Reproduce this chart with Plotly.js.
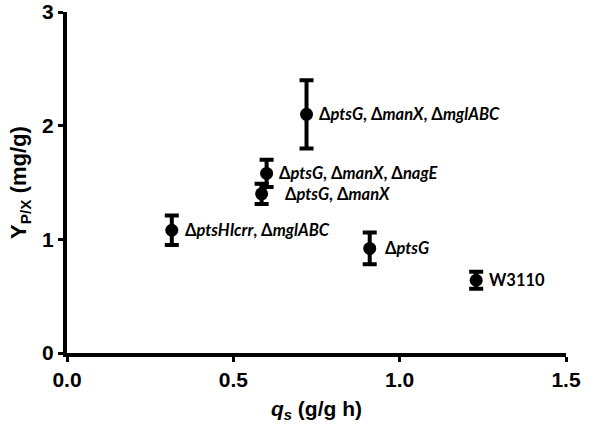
<!DOCTYPE html>
<html>
<head>
<meta charset="utf-8">
<script src="https://cdn.plot.ly/plotly-3.0.1.min.js"></script>
<style>
  html, body { margin: 0; padding: 0; background: #fff; }
  #chart { width: 600px; height: 430px; }
</style>
</head>
<body>
<div id="chart"></div>
<script>
// strains
const strains = [
  "Δ<i>ptsG</i>, Δ<i>manX</i>, Δ<i>mglABC</i>",
  "Δ<i>ptsG</i>, Δ<i>manX</i>, Δ<i>nagE</i>",
  "Δ<i>ptsG</i>, Δ<i>manX</i>",
  "Δ<i>ptsHIcrr</i>, Δ<i>mglABC</i>",
  "Δ<i>ptsG</i>",
  "W3110"
];
const qs = [0.72, 0.60, 0.585, 0.315, 0.91, 1.23];
const yield_px = [2.10, 1.58, 1.40, 1.08, 0.92, 0.64];
const yieldErr = [0.30, 0.12, 0.09, 0.13, 0.14, 0.075];

const xTicks = [0, 0.5, 1.0, 1.5];
const xTickText = ["0.0", "0.5", "1.0", "1.5"];
const yTicks = [0, 1, 2, 3];
const yTickText = ["0", "1", "2", "3"];

// label offset in px to the right of each point
const labelShift = [10, 10, 21, 11, 13, 11];

const bold = t => "<b>" + t + "</b>";
const axisFont = { family: "Liberation Sans, Arial, sans-serif", size: 21, color: "#000" };

const annotations = strains.map((s, i) => ({
  x: qs[i],
  y: yield_px[i],
  xref: "x",
  yref: "y",
  text: bold(s),
  showarrow: false,
  xanchor: "left",
  yanchor: "middle",
  xshift: labelShift[i],
  font: { family: "Lato, Open Sans, sans-serif", size: 16.5, color: "#000" }
}));

Plotly.newPlot("chart", [
  {
    type: "scatter",
    mode: "markers",
    x: qs,
    y: yield_px,
    marker: { color: "#000", size: 13, symbol: "circle" },
    error_y: {
      type: "data",
      array: yieldErr,
      visible: true,
      color: "#000",
      thickness: 4,
      width: 7
    },
    hoverinfo: "skip"
  }
], {
  width: 600,
  height: 430,
  paper_bgcolor: "#fff",
  plot_bgcolor: "#fff",
  showlegend: false,
  margin: { l: 67, r: 34, t: 12, b: 77 },
  xaxis: {
    range: [0, 1.5],
    tickmode: "array",
    tickvals: xTicks,
    ticktext: xTickText.map(bold),
    ticks: "outside",
    ticklen: 5,
    tickwidth: 3,
    tickcolor: "#000",
    showline: true,
    linewidth: 4,
    linecolor: "#000",
    showgrid: false,
    zeroline: false,
    tickfont: axisFont,
    ticklabeloverflow: "allow",
    title: {
      text: bold("<i>q<sub>s</sub></i> (g/g h)"),
      font: axisFont,
      standoff: 12
    }
  },
  yaxis: {
    range: [0, 3],
    tickmode: "array",
    tickvals: yTicks,
    ticktext: yTickText.map(bold),
    ticks: "outside",
    ticklen: 5,
    tickwidth: 3,
    tickcolor: "#000",
    showline: true,
    linewidth: 4,
    linecolor: "#000",
    showgrid: false,
    zeroline: false,
    tickfont: axisFont,
    ticklabeloverflow: "allow",
    title: {
      text: bold("Y<sub>P/X</sub> (mg/g)"),
      font: { family: "Liberation Sans, Arial, sans-serif", size: 22, color: "#000" },
      standoff: 10
    }
  },
  annotations: annotations
}, {
  displayModeBar: false,
  staticPlot: true
});
</script>
</body>
</html>
